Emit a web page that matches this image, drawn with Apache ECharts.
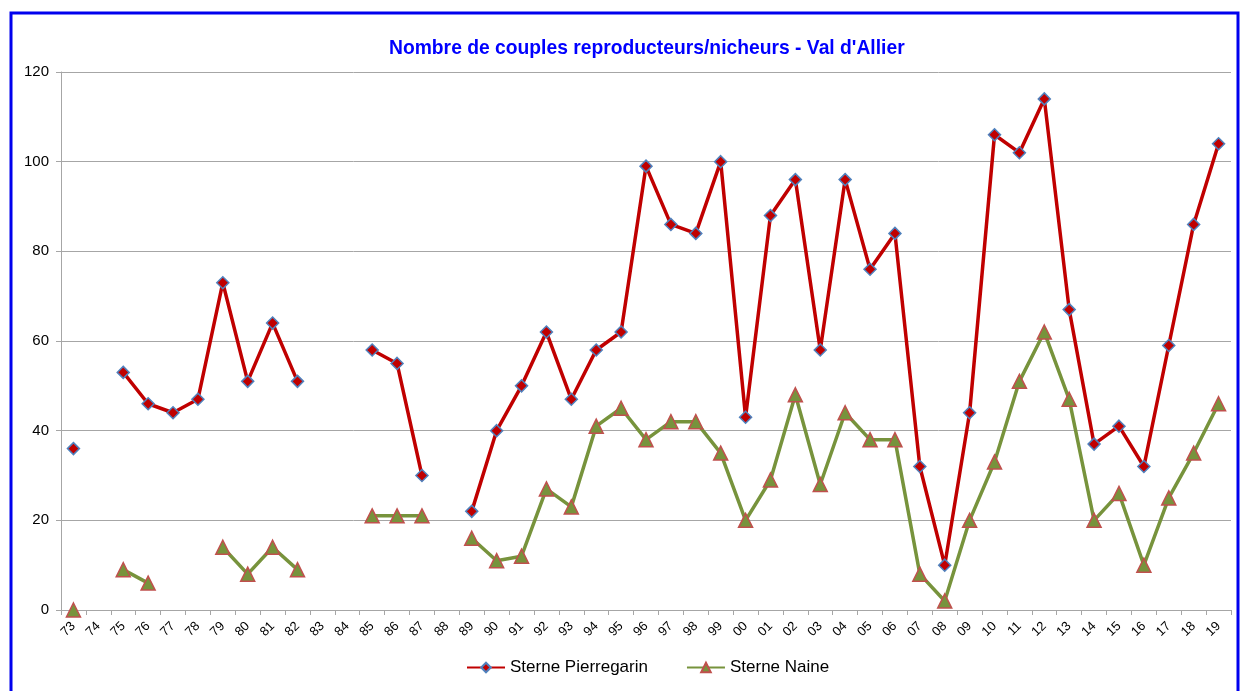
<!DOCTYPE html>
<html><head><meta charset="utf-8">
<script src="https://cdn.jsdelivr.net/npm/echarts@6/dist/echarts.min.js"></script>
<style>html,body{margin:0;padding:0;background:#fff}#c{width:1241px;height:691px}</style>
</head><body><div id="c"></div>
<script>
const categories = ['73','74','75','76','77','78','79','80','81','82','83','84','85','86','87','88','89','90','91','92','93','94','95','96','97','98','99','00','01','02','03','04','05','06','07','08','09','10','11','12','13','14','15','16','17','18','19'];
const pierregarin = [36,null,53,46,44,47,73,51,64,51,null,null,58,55,30,null,22,40,50,62,47,58,62,99,86,84,100,43,88,96,58,96,76,84,32,10,44,106,102,114,67,37,41,32,59,86,104];
const naine = [0,null,9,6,null,null,14,8,14,9,null,null,21,21,21,null,16,11,12,27,23,41,45,38,42,42,35,20,29,48,28,44,38,38,8,2,20,33,51,62,47,20,26,10,25,35,46];
const yTicks = {min:0,max:120,interval:20};
const titleText = "Nombre de couples reproducteurs/nicheurs - Val d'Allier";
const seriesNames = ['Sterne Pierregarin','Sterne Naine'];

const chart = echarts.init(document.getElementById('c'));
chart.setOption({
  animation:false,
  backgroundColor:'#fff',
  graphic:[{type:'rect',shape:{x:11,y:13,width:1227,height:690},style:{fill:'none',stroke:'#0000ee',lineWidth:3},silent:true,z:-1}],
  title:{text:titleText,left:384,top:34,textStyle:{color:'#0000ff',fontFamily:'Liberation Sans, Arial',fontWeight:'bold',fontSize:19.3}},
  legend:{top:654,left:461,itemGap:38,itemWidth:38,itemHeight:12,textStyle:{fontFamily:'Liberation Sans, Arial',fontSize:17,color:'#000'},
    data:seriesNames},
  grid:{left:61,right:10,top:72,bottom:81,containLabel:false},
  xAxis:{type:'category',data:categories,boundaryGap:true,
    axisLine:{lineStyle:{color:'#a6a6a6',width:1}},
    axisTick:{show:true,alignWithLabel:false,length:5,lineStyle:{color:'#a6a6a6'}},
    axisLabel:{rotate:45,interval:0,fontFamily:'Liberation Sans, Arial',fontSize:13,color:'#000',margin:14}},
  yAxis:{type:'value',min:yTicks.min,max:yTicks.max,interval:yTicks.interval,
    axisLine:{show:true,lineStyle:{color:'#a6a6a6'}},
    axisTick:{show:true,length:5,lineStyle:{color:'#a6a6a6'}},
    splitLine:{lineStyle:{color:'#a6a6a6',width:1}},
    axisLabel:{fontFamily:'Liberation Sans, Arial',fontSize:15,color:'#000',margin:12}},
  series:[
    {name:seriesNames[0],type:'line',data:pierregarin,connectNulls:false,symbol:'diamond',symbolSize:12,showAllSymbol:true,
      lineStyle:{color:'#c00000',width:3.5},itemStyle:{color:'#c00000',borderColor:'#4f81bd',borderWidth:1.5}},
    {name:seriesNames[1],type:'line',data:naine,connectNulls:false,symbol:'triangle',symbolSize:14,showAllSymbol:true,
      lineStyle:{color:'#77933c',width:3.5},itemStyle:{color:'#77933c',borderColor:'#c0504d',borderWidth:1.5}}
  ]
});
</script></body></html>
